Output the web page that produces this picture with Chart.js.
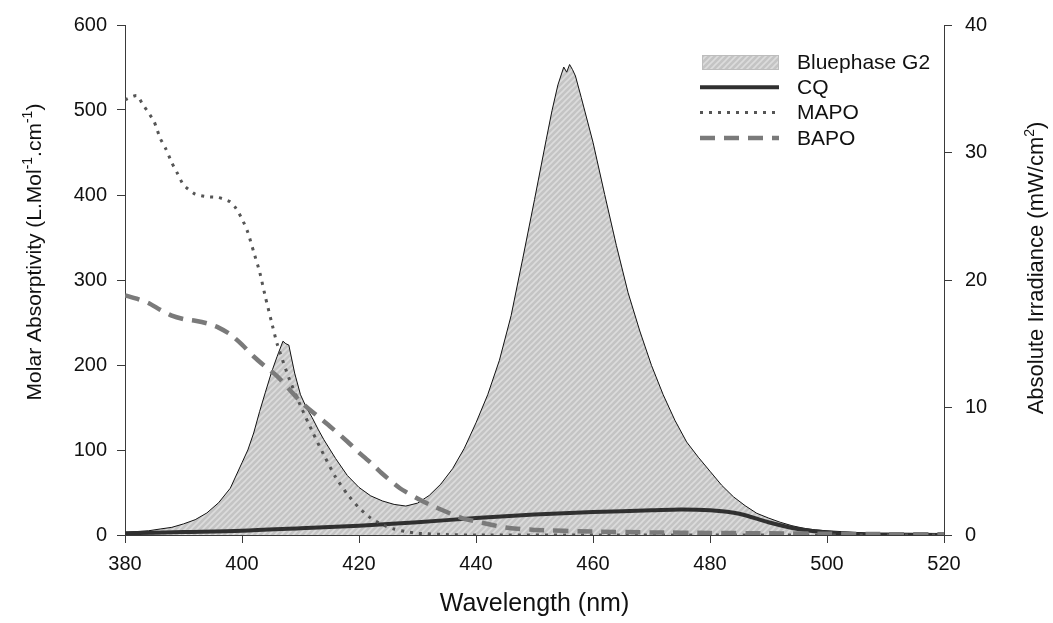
<!DOCTYPE html>
<html>
<head>
<meta charset="utf-8">
<script src="https://cdn.jsdelivr.net/npm/chart.js@4.4.1/dist/chart.umd.min.js"></script>
<style>
  html, body { margin: 0; padding: 0; background: #ffffff; }
  #wrap { width: 1053px; height: 623px; }
</style>
</head>
<body>
<div id="wrap"><canvas id="c" width="1053" height="623"></canvas></div>
<script>
// ---------- DATA ----------
const xTicks = [380, 400, 420, 440, 460, 480, 500, 520];
const yLeftTicks = [0, 100, 200, 300, 400, 500, 600];
const yRightTicks = [0, 10, 20, 30, 40];

const seriesLabels = ['Bluephase G2', 'CQ', 'MAPO', 'BAPO'];
const xTitle = 'Wavelength (nm)';
// axis titles with superscript parts: [text, isSuperscript]
const yLeftTitle = [['Molar Absorptivity (L.Mol', false], ['-1', true], ['.cm', false], ['-1', true], [')', false]];
const yRightTitle = [['Absolute Irradiance (mW/cm', false], ['2', true], [')', false]];

// Bluephase G2 emission spectrum (absolute irradiance, mW/cm²)
const bluephaseNm = [380, 382, 384, 386, 388, 390, 392, 394, 396, 398, 400, 401, 402, 403, 404, 405, 406, 407, 407.5, 408, 409, 410, 411, 412, 413, 414, 416, 418, 420, 422, 424, 426, 428, 430, 432, 434, 436, 438, 440, 442, 444, 446, 448, 450, 452, 453, 454, 455, 455.5, 456, 456.5, 457, 458, 460, 462, 464, 466, 468, 470, 472, 474, 476, 478, 480, 482, 484, 486, 488, 490, 492, 494, 496, 498, 500, 505, 510, 515, 520];
const bluephaseIrr = [0.2, 0.27, 0.33, 0.47, 0.6, 0.87, 1.2, 1.73, 2.53, 3.67, 5.67, 6.67, 8.0, 9.67, 11.2, 12.7, 14.0, 15.2, 15.0, 14.9, 12.7, 11.0, 10.0, 9.2, 8.3, 7.47, 6.0, 4.67, 3.73, 3.07, 2.67, 2.4, 2.27, 2.5, 3.1, 4.0, 5.2, 6.8, 8.8, 11.0, 13.7, 17.2, 21.7, 26.3, 31.0, 33.3, 35.3, 36.7, 36.3, 36.9, 36.5, 36.0, 34.3, 30.8, 26.7, 22.7, 19.0, 16.0, 13.3, 11.0, 9.0, 7.3, 6.1, 5.0, 3.9, 3.0, 2.3, 1.7, 1.33, 1.0, 0.73, 0.53, 0.4, 0.33, 0.2, 0.1, 0.05, 0.03];

// CQ molar absorptivity
const cqNm = [380, 390, 400, 410, 420, 430, 440, 450, 460, 470, 475, 480, 485, 490, 495, 500, 505, 510, 520];
const cqAbs = [2, 3.5, 5, 8, 11, 15, 20, 24, 27, 29, 30, 29, 25, 15, 7, 3, 1, 0.5, 0];

// MAPO molar absorptivity
const mapoNm = [380, 382, 383, 384, 385, 386, 387, 388, 389, 390, 392, 394, 396, 398, 399, 400, 401, 402, 403, 404, 405, 406, 408, 410, 412, 414, 416, 418, 420, 422, 424, 426, 428, 430, 435, 440, 460, 480, 500, 520];
const mapoAbs = [512, 517, 507, 497, 486, 467, 454, 438, 425, 412, 401, 398, 397, 392, 384, 372, 356, 333, 310, 280, 252, 225, 185, 152, 122, 94, 68, 48, 32, 20, 12, 7, 4, 2, 0.5, 0, 0, 0, 0, 0];

// BAPO molar absorptivity
const bapoNm = [380, 382, 384, 386, 388, 390, 392, 394, 396, 398, 400, 402, 404, 406, 408, 410, 412, 415, 418, 420, 422, 424, 427, 430, 432, 435, 438, 440, 442, 444, 446, 450, 460, 470, 480, 490, 500, 510, 520];
const bapoAbs = [282, 278, 273, 265, 258, 254, 252, 249, 244, 236, 224, 210, 198, 187, 172, 157, 145, 128, 110, 97, 85, 72, 55, 43, 36, 27, 19, 16, 13, 10, 8, 6, 4, 3, 2.5, 2, 1.5, 1, 1];

// ---------- HELPERS ----------
const FONT = "'Liberation Sans', Arial, Helvetica, sans-serif";
const zip = (xs, ys) => xs.map((x, i) => ({ x: x, y: ys[i] }));

const canvas = document.getElementById('c');
const ctx = canvas.getContext('2d');

function makeHatch() {
  const s = 6;
  const p = document.createElement('canvas');
  p.width = s; p.height = s;
  const g = p.getContext('2d');
  g.fillStyle = '#c4c4c4';
  g.fillRect(0, 0, s, s);
  g.strokeStyle = '#dcdcdc';
  g.lineWidth = 1.6;
  g.beginPath();
  g.moveTo(-1, s + 1); g.lineTo(s + 1, -1);
  g.moveTo(-1, 1); g.lineTo(1, -1);
  g.moveTo(s - 1, s + 1); g.lineTo(s + 1, s - 1);
  g.stroke();
  return ctx.createPattern(p, 'repeat');
}
const hatch = makeHatch();

// rotated rich text (with superscripts) centred at (cx, cy), reading bottom-to-top
function drawRotatedTitle(c, parts, cx, cy, size, supSize) {
  c.save();
  c.translate(cx, cy);
  c.rotate(-Math.PI / 2);
  c.fillStyle = '#111111';
  c.textBaseline = 'alphabetic';
  c.textAlign = 'left';
  let total = 0;
  const widths = parts.map(([t, sup]) => {
    c.font = (sup ? supSize : size) + 'px ' + FONT;
    const w = c.measureText(t).width;
    total += w;
    return w;
  });
  let x = -total / 2;
  const base = size * 0.36;
  parts.forEach(([t, sup], i) => {
    c.font = (sup ? supSize : size) + 'px ' + FONT;
    c.fillText(t, x, sup ? base - size * 0.42 : base);
    x += widths[i];
  });
  c.restore();
}

const titlesPlugin = {
  id: 'titlesPlugin',
  afterDraw(chart) {
    const c = chart.ctx;
    drawRotatedTitle(c, yLeftTitle, 33, 252, 21, 14);
    drawRotatedTitle(c, yRightTitle, 1035, 268, 22, 14);
  }
};

// Legend drawn inside the plot area (top right)
const insideLegend = {
  id: 'insideLegend',
  afterDraw(chart) {
    const c = chart.ctx;
    const x0 = 700, x1 = 779, tx = 797;
    const y0 = 62, dy = 25.3;
    c.save();
    chart.data.datasets.forEach((ds, i) => {
      const y = y0 + i * dy;
      if (ds.fill) {
        c.fillStyle = hatch;
        c.fillRect(x0 + 2, y - 7, x1 - x0 - 2, 15);
        c.strokeStyle = '#bdbdbd';
        c.lineWidth = 1;
        c.strokeRect(x0 + 2.5, y - 6.5, x1 - x0 - 3, 14);
      } else {
        c.strokeStyle = ds.borderColor;
        c.lineWidth = ds.borderWidth;
        c.setLineDash(ds.borderDash || []);
        c.lineCap = 'butt';
        c.beginPath();
        c.moveTo(x0, y);
        c.lineTo(x1, y);
        c.stroke();
        c.setLineDash([]);
      }
      c.fillStyle = '#111111';
      c.font = '21px ' + FONT;
      c.textAlign = 'left';
      c.textBaseline = 'middle';
      c.fillText(ds.label, tx, y + 1);
    });
    c.restore();
  }
};

const axisColor = '#3a3a3a';
const tickFont = { family: FONT, size: 20 };

new Chart(ctx, {
  type: 'line',
  data: {
    datasets: [
      {
        label: seriesLabels[0],
        data: zip(bluephaseNm, bluephaseIrr),
        yAxisID: 'y2',
        borderColor: '#111111',
        borderWidth: 1,
        backgroundColor: hatch,
        fill: 'origin',
        pointRadius: 0,
        tension: 0,
        order: 10
      },
      {
        label: seriesLabels[1],
        data: zip(cqNm, cqAbs),
        yAxisID: 'y',
        borderColor: '#303030',
        borderWidth: 4,
        fill: false,
        pointRadius: 0,
        tension: 0.3,
        order: 3
      },
      {
        label: seriesLabels[2],
        data: zip(mapoNm, mapoAbs),
        yAxisID: 'y',
        borderColor: '#555555',
        borderWidth: 3,
        borderDash: [3, 6],
        fill: false,
        pointRadius: 0,
        tension: 0.2,
        order: 2
      },
      {
        label: seriesLabels[3],
        data: zip(bapoNm, bapoAbs),
        yAxisID: 'y',
        borderColor: '#7a7a7a',
        borderWidth: 4.5,
        borderDash: [15, 9],
        fill: false,
        pointRadius: 0,
        tension: 0.2,
        order: 1
      }
    ]
  },
  options: {
    responsive: false,
    animation: false,
    devicePixelRatio: 1,
    layout: { padding: { top: 21, left: 0, right: 0, bottom: 0 } },
    plugins: {
      legend: { display: false },
      tooltip: { enabled: false },
      title: { display: false }
    },
    scales: {
      x: {
        type: 'linear',
        min: xTicks[0],
        max: xTicks[xTicks.length - 1],
        afterBuildTicks: s => { s.ticks = xTicks.map(v => ({ value: v })); },
        afterFit: s => { s.height = 88; },
        ticks: { font: tickFont, color: '#111111', padding: 9, maxRotation: 0 },
        grid: { display: true, drawOnChartArea: false, drawTicks: true, tickLength: 8, color: axisColor },
        border: { display: true, color: axisColor, width: 1 },
        title: { display: true, text: xTitle, font: { family: FONT, size: 25 }, color: '#111111', padding: { top: 0, bottom: 4 } }
      },
      y: {
        type: 'linear',
        position: 'left',
        min: yLeftTicks[0],
        max: yLeftTicks[yLeftTicks.length - 1],
        afterBuildTicks: s => { s.ticks = yLeftTicks.map(v => ({ value: v })); },
        afterFit: s => { s.width = 125; },
        ticks: { font: tickFont, color: '#111111', padding: 10 },
        grid: { display: true, drawOnChartArea: false, drawTicks: true, tickLength: 8, color: axisColor },
        border: { display: true, color: axisColor, width: 1 },
        title: { display: false }
      },
      y2: {
        type: 'linear',
        position: 'right',
        min: yRightTicks[0],
        max: yRightTicks[yRightTicks.length - 1],
        afterBuildTicks: s => { s.ticks = yRightTicks.map(v => ({ value: v })); },
        afterFit: s => { s.width = 109; },
        ticks: { font: tickFont, color: '#111111', padding: 13 },
        grid: { display: true, drawOnChartArea: false, drawTicks: true, tickLength: 8, color: axisColor },
        border: { display: true, color: axisColor, width: 1 },
        title: { display: false }
      }
    }
  },
  plugins: [insideLegend, titlesPlugin]
});
</script>
</body>
</html>
